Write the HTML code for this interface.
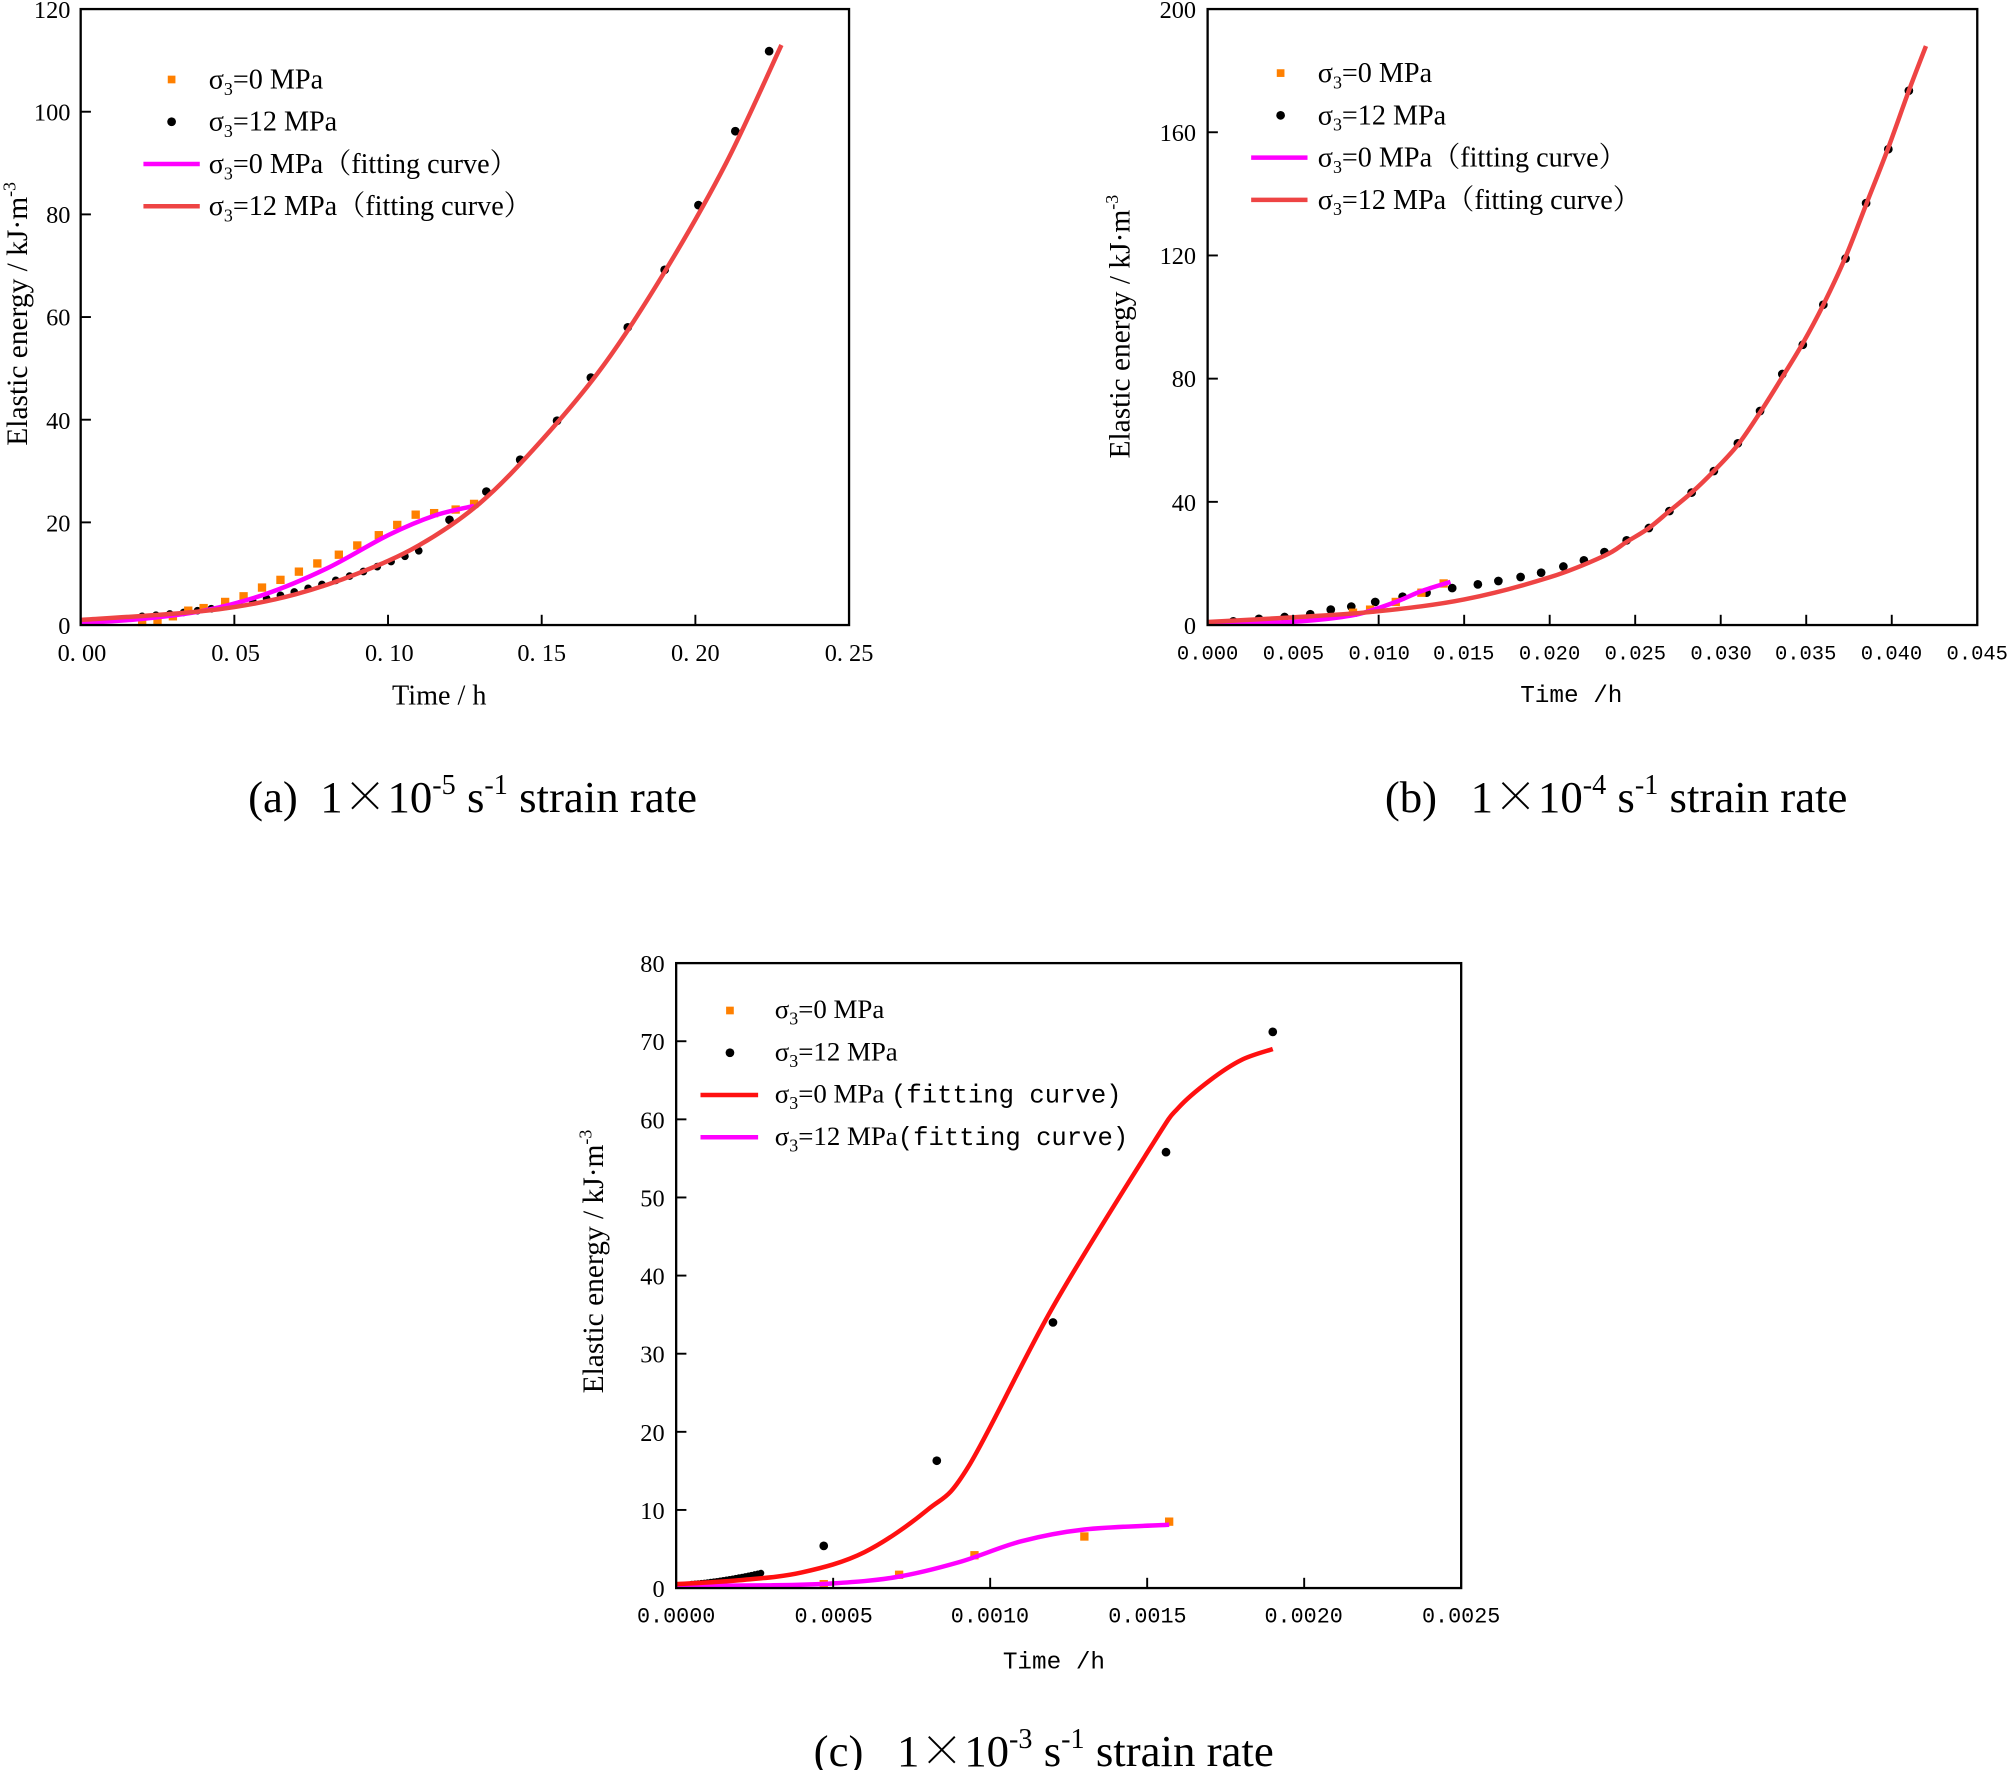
<!DOCTYPE html>
<html><head><meta charset="utf-8"><style>
html,body{margin:0;padding:0;background:#fff;}
svg{display:block;}
text{font-family:"Liberation Serif","Noto Serif CJK SC",serif;fill:#000;}
.tk{font-size:19px;}
.lg{font-size:22px;}
.mono, .mono text{font-family:"Liberation Mono","Noto Sans CJK SC",monospace;}
.cap{font-size:35px;}
.cj{font-family:"Noto Serif CJK SC",serif;}
</style></head><body>
<svg id="s" width="2008" height="1770" viewBox="0 0 1568 1382" xmlns="http://www.w3.org/2000/svg">
<g id="plots"></g>
<!-- Plot a labels -->
<g class="tk" text-anchor="end">
<text x="55" y="495">0</text><text x="55" y="415">20</text><text x="55" y="335">40</text><text x="55" y="254">60</text><text x="55" y="174">80</text><text x="55" y="94">100</text><text x="55" y="14">120</text>
</g>
<g class="tk" text-anchor="middle">
<text x="64" y="516">0. 00</text><text x="184" y="516">0. 05</text><text x="304" y="516">0. 10</text><text x="423" y="516">0. 15</text><text x="543" y="516">0. 20</text><text x="663" y="516">0. 25</text>
</g>
<text x="343" y="550" text-anchor="middle" style="font-size:22px">Time / h</text>
<text transform="translate(21,245) rotate(-90)" text-anchor="middle" style="font-size:23px">Elastic energy / kJ·m<tspan dy="-9" style="font-size:14px">-3</tspan></text>
<g class="lg">
<text x="163" y="69">σ<tspan dy="5" style="font-size:14px">3</tspan><tspan dy="-5">=0 MPa</tspan></text>
<text x="163" y="102">σ<tspan dy="5" style="font-size:14px">3</tspan><tspan dy="-5">=12 MPa</tspan></text>
<text x="163" y="135">σ<tspan dy="5" style="font-size:14px">3</tspan><tspan dy="-5">=0 MPa（fitting curve）</tspan></text>
<text x="163" y="168">σ<tspan dy="5" style="font-size:14px">3</tspan><tspan dy="-5">=12 MPa（fitting curve）</tspan></text>
</g>
<text class="cap" x="369" y="634" text-anchor="middle">(a)&#160;&#160;1<tspan class="cj">×</tspan>10<tspan dy="-14" style="font-size:22px">-5</tspan><tspan dy="14"> s</tspan><tspan dy="-14" style="font-size:22px">-1</tspan><tspan dy="14"> strain rate</tspan></text>

<!-- Plot b labels -->
<g class="tk" text-anchor="end">
<text x="934" y="495">0</text><text x="934" y="399">40</text><text x="934" y="302">80</text><text x="934" y="206">120</text><text x="934" y="110">160</text><text x="934" y="14">200</text>
</g>
<g class="tk mono" text-anchor="middle" style="font-size:16px">
<text x="943" y="515">0.000</text><text x="1010" y="515">0.005</text><text x="1077" y="515">0.010</text><text x="1143" y="515">0.015</text><text x="1210" y="515">0.020</text><text x="1277" y="515">0.025</text><text x="1344" y="515">0.030</text><text x="1410" y="515">0.035</text><text x="1477" y="515">0.040</text><text x="1544" y="515">0.045</text>
</g>
<text class="mono" x="1227" y="548" text-anchor="middle" style="font-size:19px">Time /h</text>
<text transform="translate(882,255) rotate(-90)" text-anchor="middle" style="font-size:23px">Elastic energy / kJ·m<tspan dy="-9" style="font-size:14px">-3</tspan></text>
<g class="lg">
<text x="1029" y="64">σ<tspan dy="5" style="font-size:14px">3</tspan><tspan dy="-5">=0 MPa</tspan></text>
<text x="1029" y="97">σ<tspan dy="5" style="font-size:14px">3</tspan><tspan dy="-5">=12 MPa</tspan></text>
<text x="1029" y="130">σ<tspan dy="5" style="font-size:14px">3</tspan><tspan dy="-5">=0 MPa（fitting curve）</tspan></text>
<text x="1029" y="163">σ<tspan dy="5" style="font-size:14px">3</tspan><tspan dy="-5">=12 MPa（fitting curve）</tspan></text>
</g>
<text class="cap" x="1262" y="634" text-anchor="middle">(b)&#160;&#160;&#160;1<tspan class="cj">×</tspan>10<tspan dy="-14" style="font-size:22px">-4</tspan><tspan dy="14"> s</tspan><tspan dy="-14" style="font-size:22px">-1</tspan><tspan dy="14"> strain rate</tspan></text>

<!-- Plot c labels -->
<g class="tk" text-anchor="end">
<text x="519" y="1247">0</text><text x="519" y="1186">10</text><text x="519" y="1125">20</text><text x="519" y="1064">30</text><text x="519" y="1003">40</text><text x="519" y="942">50</text><text x="519" y="881">60</text><text x="519" y="820">70</text><text x="519" y="759">80</text>
</g>
<g class="tk mono" text-anchor="middle" style="font-size:17px">
<text x="528" y="1267">0.0000</text><text x="651" y="1267">0.0005</text><text x="773" y="1267">0.0010</text><text x="896" y="1267">0.0015</text><text x="1018" y="1267">0.0020</text><text x="1141" y="1267">0.0025</text>
</g>
<text class="mono" x="823" y="1303" text-anchor="middle" style="font-size:19px">Time /h</text>
<text transform="translate(471,985) rotate(-90)" text-anchor="middle" style="font-size:23px">Elastic energy / kJ·m<tspan dy="-9" style="font-size:14px">-3</tspan></text>
<g class="lg" style="font-size:21px">
<text x="605" y="795">σ<tspan dy="5" style="font-size:14px">3</tspan><tspan dy="-5">=0 MPa</tspan></text>
<text x="605" y="828">σ<tspan dy="5" style="font-size:14px">3</tspan><tspan dy="-5">=12 MPa</tspan></text>
<text x="605" y="861">σ<tspan dy="5" style="font-size:14px">3</tspan><tspan dy="-5">=0 MPa </tspan><tspan class="mono" style="font-size:20px">(fitting curve)</tspan></text>
<text x="605" y="894">σ<tspan dy="5" style="font-size:14px">3</tspan><tspan dy="-5">=12 MPa</tspan><tspan class="mono" style="font-size:20px">(fitting curve)</tspan></text>
</g>
<text class="cap" x="815" y="1379" text-anchor="middle">(c)&#160;&#160;&#160;1<tspan class="cj">×</tspan>10<tspan dy="-14" style="font-size:22px">-3</tspan><tspan dy="14"> s</tspan><tspan dy="-14" style="font-size:22px">-1</tspan><tspan dy="14"> strain rate</tspan></text>
</svg>
<script>
var NS="http://www.w3.org/2000/svg",G=document.getElementById("plots");
function el(t,a){var e=document.createElementNS(NS,t);for(var k in a)e.setAttribute(k,a[k]);G.appendChild(e);return e;}
function mk(x0,x1,y0,y1,xm,ym){return function(p){return [x0+p[0]/xm*(x1-x0), y1-p[1]/ym*(y1-y0)];};}
function curve(pts,f,col,w){var P=pts.map(f),d="M"+P[0][0]+","+P[0][1];
for(var i=0;i<P.length-1;i++){var p0=P[i-1]||P[i],p1=P[i],p2=P[i+1],p3=P[i+2]||p2;
d+="C"+(p1[0]+(p2[0]-p0[0])/6)+","+(p1[1]+(p2[1]-p0[1])/6)+" "+(p2[0]-(p3[0]-p1[0])/6)+","+(p2[1]-(p3[1]-p1[1])/6)+" "+p2[0]+","+p2[1];}
el("path",{d:d,fill:"none",stroke:col,"stroke-width":w||3.5,"stroke-linejoin":"round"});}
function dots(pts,f,r){pts.forEach(function(p){var q=f(p);el("circle",{cx:q[0],cy:q[1],r:r||3.4,fill:"#000"});});}
function sq(pts,f,s){s=s||6.5;pts.forEach(function(p){var q=f(p);el("rect",{x:q[0]-s/2,y:q[1]-s/2,width:s,height:s,fill:"#ff8000"});});}
function frame(x0,x1,y0,y1,nx,ny){
for(var i=1;i<nx;i++){var x=x0+(x1-x0)*i/nx;el("line",{x1:x,x2:x,y1:y1,y2:y1-8,stroke:"#000","stroke-width":1.5});}
for(var j=1;j<ny;j++){var y=y1-(y1-y0)*j/ny;el("line",{x1:x0,x2:x0+8,y1:y,y2:y,stroke:"#000","stroke-width":1.5});}
el("rect",{x:x0,y:y0,width:x1-x0,height:y1-y0,fill:"none",stroke:"#000","stroke-width":1.8});}
function legend(mx,lx0,lx1,ys,c3,c4){
el("rect",{x:mx-3,y:ys[0]-3,width:6,height:6,fill:"#ff8000"});
el("circle",{cx:mx,cy:ys[1],r:3.4,fill:"#000"});
el("line",{x1:lx0,x2:lx1,y1:ys[2],y2:ys[2],stroke:c3,"stroke-width":3.5});
el("line",{x1:lx0,x2:lx1,y1:ys[3],y2:ys[3],stroke:c4,"stroke-width":3.5});}
var RED="#ee4444",MAG="#ff00ff";
// (a)
var fa=mk(63,663,7,488,0.25,120);
var blackA=[];for(var t=0.02;t<0.112;t+=0.0045){var v=1+0.4*Math.pow(t/0.02,2.05);blackA.push([t,v*1.0+0.3]);}
dots(blackA,fa,3);
dots([[0.12,20.5],[0.132,26],[0.143,32.2],[0.155,39.8],[0.166,48.2],[0.178,58],[0.19,69.2],[0.201,81.8],[0.213,96.2],[0.224,111.8]],fa,3.4);
sq([[0.02,0.6],[0.025,1],[0.03,1.7],[0.035,2.8],[0.04,3.3],[0.047,4.5],[0.053,5.6],[0.059,7.3],[0.065,8.8],[0.071,10.4],[0.077,12],[0.084,13.7],[0.09,15.5],[0.097,17.5],[0.103,19.5],[0.109,21.5],[0.115,21.8],[0.122,22.5],[0.128,23.6]],fa);
curve([[0,0.4],[0.02,1.2],[0.04,2.8],[0.06,6],[0.08,11],[0.1,17.5],[0.115,21.3],[0.128,23.2]],fa,MAG);
curve([[0,1],[0.03,2.2],[0.05,3.5],[0.07,6],[0.09,10],[0.11,15.5],[0.13,23.8],[0.15,36],[0.17,50.5],[0.19,68.8],[0.21,90],[0.228,113]],fa,RED);
frame(63,663,7,488,5,6);
legend(134,112,156,[62,95,128,161],MAG,RED);
// (b)
var fb=mk(943,1544,7,488,0.045,200);
dots([[0.0015,1.2],[0.003,2],[0.0045,2.6],[0.006,3.5],[0.0072,5],[0.0084,6],[0.0098,7.5],[0.0114,9.2],[0.0128,10.5],[0.0143,12],[0.0158,13.2],[0.017,14.3],[0.0183,15.6],[0.0195,17],[0.0208,19],[0.022,21],[0.0232,23.7],[0.0245,27.5],[0.0258,31.5],[0.027,37],[0.0283,43],[0.0296,50],[0.031,59],[0.0323,69.5],[0.0336,81.5],[0.0348,91],[0.036,104],[0.0373,119],[0.0385,137],[0.0398,154.5],[0.041,173.5]],fb,3.4);
sq([[0.0085,4],[0.0095,5],[0.011,7.5],[0.0125,10.5],[0.0138,13.5]],fb);
curve([[0,0.5],[0.004,0.8],[0.007,2],[0.009,3.8],[0.011,7.5],[0.0125,11],[0.0142,14]],fb,MAG);
curve([[0,1],[0.005,2.5],[0.01,4.5],[0.015,8.3],[0.02,15.5],[0.0232,22.5],[0.0245,27],[0.0258,31.5],[0.027,37],[0.0283,43],[0.0296,50],[0.031,58.5],[0.0323,69],[0.0336,80.5],[0.0348,91.5],[0.036,104],[0.0373,119.5],[0.0385,136.5],[0.0398,155],[0.041,173.5],[0.042,188]],fb,RED);
frame(943,1544,7,488,9,5);
legend(1000,977,1021,[57,90,123,156],MAG,RED);
// (c)
var fc=mk(528,1141,752,1240,0.0025,80);
var cl=[];for(var t=0.00005;t<=0.00028;t+=0.00001)cl.push([t,0.4+1.6*Math.pow(t/0.00028,1.6)]);
dots(cl,fc,2.6);
dots([[0.00047,5.4],[0.00083,16.3],[0.0012,34],[0.00156,55.8],[0.0019,71.2]],fc,3.4);
sq([[0.00047,0.5],[0.00071,1.7],[0.00095,4.2],[0.0013,6.6],[0.00157,8.5]],fc);
curve([[0,0.3],[0.0003,0.35],[0.0005,0.6],[0.0007,1.4],[0.0009,3.3],[0.0011,6],[0.0013,7.5],[0.00157,8.1]],fc,MAG);
curve([[0,0.5],[0.0002,1],[0.0004,2],[0.0006,4.6],[0.0008,10],[0.00093,15.5],[0.0012,36],[0.00152,57],[0.0016,61.5],[0.0017,65],[0.0018,67.6],[0.0019,69]],fc,"#ff1010");
frame(528,1141,752,1240,5,8);
legend(570,547,592,[789,822,855,888],"#ff1010",MAG);
</script>
</body></html>
